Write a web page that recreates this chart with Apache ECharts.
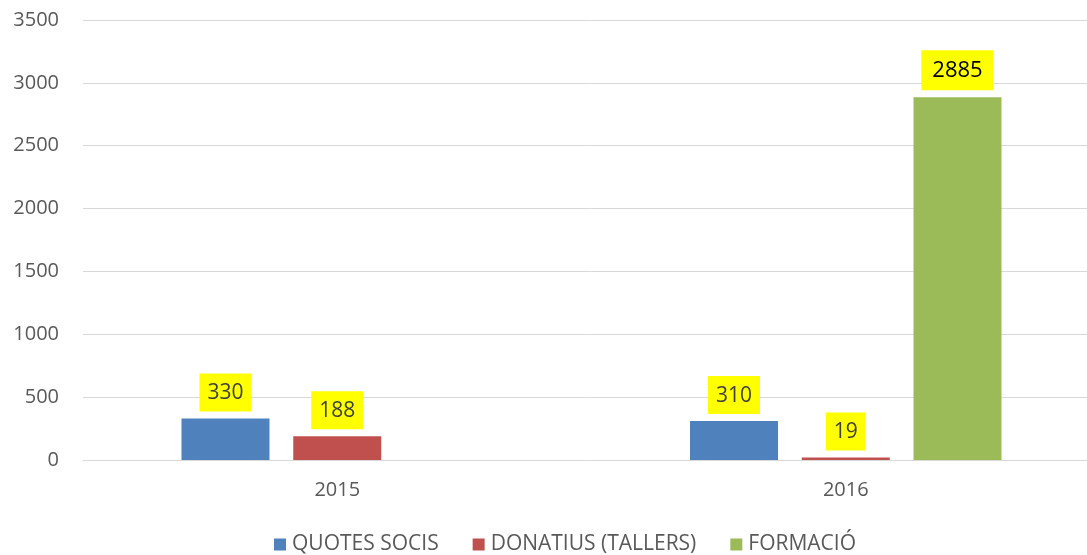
<!DOCTYPE html>
<html>
<head>
<meta charset="utf-8">
<script src="https://cdn.jsdelivr.net/npm/echarts@6/dist/echarts.min.js"></script>
<style>
  html, body { margin: 0; padding: 0; background: #ffffff; overflow: hidden; }
  /* plot area runs past the right edge of the window */
  #chart { width: 1100px; height: 555px; }
</style>
</head>
<body>
<div id="chart"></div>
<script>
// Years on the category axis
const years = ['2015', '2016'];

// Income by concept and year (null = no entry that year)
const quotesSocis = [330, 310];
const donatiusTallers = [188, 19];
const formacio = [null, 2885];

// Value axis ticks
const yMin = 0;
const yMax = 3500;
const yStep = 500;

const FONT = '"Open Sans", "Noto Sans", "Liberation Sans", sans-serif';

function valueLabel(color, size, padding) {
  return {
    show: true,
    position: 'top',
    distance: 7,
    fontFamily: FONT,
    fontSize: size,
    lineHeight: size + 2,
    color: color,
    backgroundColor: '#ffff00',
    padding: padding
  };
}

const chart = echarts.init(document.getElementById('chart'), null, { renderer: 'canvas' });

chart.setOption({
  animation: false,
  backgroundColor: '#ffffff',
  textStyle: { fontFamily: FONT },
  grid: {
    left: 83,
    top: 20,
    right: 0,
    bottom: 95,
    containLabel: false
  },
  legend: {
    bottom: 0,
    left: 274,
    padding: 0,
    itemWidth: 12,
    itemHeight: 12,
    itemGap: 34,
    icon: 'rect',
    textStyle: { fontFamily: FONT, fontSize: 21, color: '#595959', padding: [0, 0, 0, 1] },
    data: ['QUOTES SOCIS', 'DONATIUS (TALLERS)', 'FORMACIÓ']
  },
  xAxis: {
    type: 'category',
    data: years,
    axisLine: { show: true, lineStyle: { color: '#d9d9d9', width: 1 } },
    axisTick: { show: false },
    axisLabel: { fontFamily: FONT, fontSize: 20, color: '#595959', margin: 20 }
  },
  yAxis: {
    type: 'value',
    min: yMin,
    max: yMax,
    interval: yStep,
    axisLine: { show: false },
    axisTick: { show: false },
    axisLabel: {
      fontFamily: FONT,
      fontSize: 20,
      color: '#595959',
      margin: 24,
      formatter: (v) => String(v)
    },
    splitLine: { show: true, lineStyle: { color: '#d9d9d9', width: 1 } }
  },
  series: [
    {
      name: 'QUOTES SOCIS',
      type: 'bar',
      data: quotesSocis,
      barWidth: 88,
      barGap: '27%',
      itemStyle: { color: '#4f81bd' },
      label: valueLabel('#404040', 21, [8, 8, 7, 8])
    },
    {
      name: 'DONATIUS (TALLERS)',
      type: 'bar',
      data: donatiusTallers,
      barWidth: 88,
      barGap: '27%',
      itemStyle: { color: '#c0504d' },
      label: valueLabel('#404040', 21, [8, 8, 7, 8])
    },
    {
      name: 'FORMACIÓ',
      type: 'bar',
      data: formacio,
      barWidth: 88,
      barGap: '27%',
      itemStyle: { color: '#9bbb59' },
      label: valueLabel('#000000', 22, [8, 11, 8, 11])
    }
  ]
});
</script>
</body>
</html>
